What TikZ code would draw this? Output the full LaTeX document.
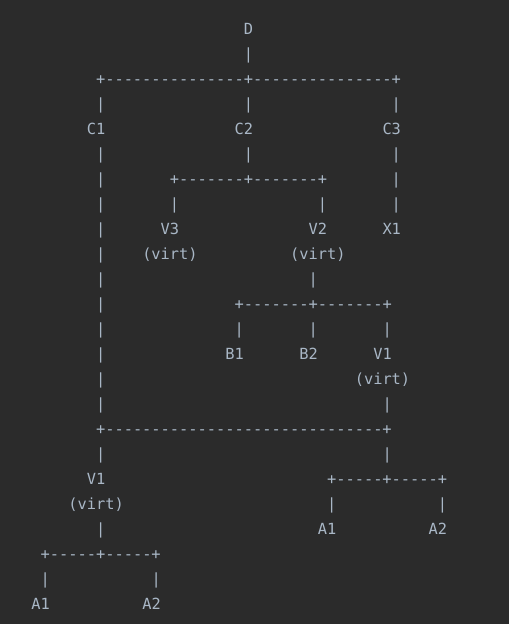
\documentclass[tikz,border=0pt]{standalone}
\usepackage{fontspec}
\setmonofont{DejaVu Sans Mono}
\definecolor{bgc}{HTML}{2B2B2B}
\definecolor{fgc}{HTML}{A9B7C6}
\tikzset{
  txt/.style={anchor=base, inner sep=0pt, outer sep=0pt, text=fgc,
    font=\ttfamily\fontsize{15.35pt}{25pt}\selectfont},
}
% #1 name, #2 column (centre), #3 row, #4 text
\newcommand\tok[4]{\node[txt] (#1) at ({36.0+9.24*(#2)}, {-34-25*(#3)}) {#4};}
\begin{document}
\begin{tikzpicture}[x=1pt,y=1pt]
\fill[bgc] (0,0) rectangle (509,-624);
\useasboundingbox (0,0) rectangle (509,-624);
% labels
\tok{D}{23}{0}{D}
\tok{C1}{6.5}{4}{C1}
\tok{C2}{22.5}{4}{C2}
\tok{C3}{38.5}{4}{C3}
\tok{V3}{14.5}{8}{V3}
\tok{V2}{30.5}{8}{V2}
\tok{X1}{38.5}{8}{X1}
\tok{V3v}{14.5}{9}{(virt)}
\tok{V2v}{30.5}{9}{(virt)}
\tok{B1}{21.5}{13}{B1}
\tok{B2}{29.5}{13}{B2}
\tok{V1a}{37.5}{13}{V1}
\tok{V1av}{37.5}{14}{(virt)}
\tok{V1b}{6.5}{18}{V1}
\tok{V1bv}{6.5}{19}{(virt)}
\tok{A1a}{31.5}{20}{A1}
\tok{A2a}{43.5}{20}{A2}
\tok{A1b}{0.5}{23}{A1}
\tok{A2b}{12.5}{23}{A2}
% branch rows
\tok{h2}{23}{2}{+---------------+---------------+}
\tok{h6}{23}{6}{+-------+-------+}
\tok{h11}{30}{11}{+-------+-------+}
\tok{h16}{22.5}{16}{+------------------------------+}
\tok{h18}{38}{18}{+-----+-----+}
\tok{h21}{7}{21}{+-----+-----+}
% vertical bars
\foreach \r/\c in {1/23,3/7,3/23,3/39,5/7,5/23,5/39,6/7,6/39,7/7,7/15,7/31,7/39,
  8/7,9/7,10/7,10/30,11/7,12/7,12/22,12/30,12/38,13/7,14/7,15/7,15/38,
  17/7,17/38,19/32,19/44,20/7,22/1,22/13}
  {\tok{bar-\r-\c}{\c}{\r}{|}}
\end{tikzpicture}
\end{document}
